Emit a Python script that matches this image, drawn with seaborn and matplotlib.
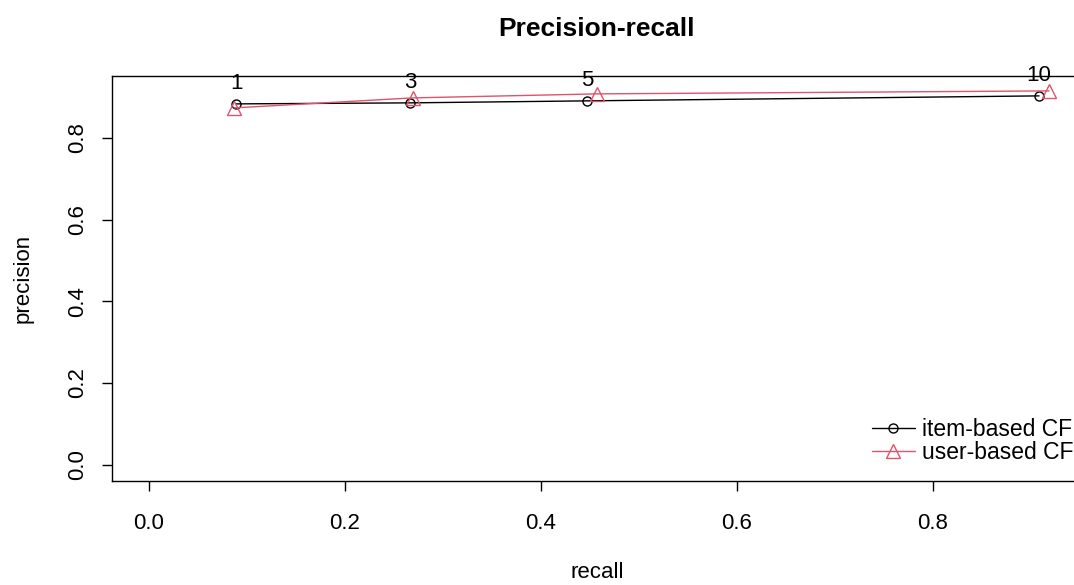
import matplotlib
matplotlib.use("Agg")
import matplotlib.pyplot as plt
from matplotlib.lines import Line2D
import seaborn as sns
import pandas as pd

# values
n_recs = ["1", "3", "5", "10"]
item_recall = [0.0888, 0.2663, 0.4469, 0.9082]
item_precision = [0.8837, 0.8862, 0.8911, 0.9033]
user_recall = [0.0867, 0.2694, 0.4571, 0.9184]
user_precision = [0.8739, 0.8984, 0.9082, 0.9155]

sns.set_style("white")
plt.rcParams["font.family"] = ["Liberation Sans", "DejaVu Sans"]
plt.rcParams["text.color"] = "black"
plt.rcParams["axes.labelcolor"] = "black"
plt.rcParams["xtick.color"] = "black"
plt.rcParams["ytick.color"] = "black"

df = pd.concat([
    pd.DataFrame({"recall": item_recall, "precision": item_precision, "method": "item-based CF"}),
    pd.DataFrame({"recall": user_recall, "precision": user_precision, "method": "user-based CF"}),
])

fig = plt.figure(figsize=(10.74, 5.85), dpi=100)
ax = fig.add_axes([112 / 1074, (585 - 481) / 585, (1082 - 112) / 1074, (481 - 76) / 585])

red = "#DF536B"
sns.lineplot(data=df, x="recall", y="precision", hue="method", style="method",
             palette={"item-based CF": "black", "user-based CF": red},
             markers={"item-based CF": "o", "user-based CF": "^"},
             dashes=False, sort=False, linewidth=1, legend=False, ax=ax)
for line, ms in zip(ax.lines[:2], [6.5, 10]):
    line.set_markersize(ms)
    line.set_markerfacecolor("none")
    line.set_markeredgewidth(1)
    line.set_markeredgecolor(line.get_color())

for lab, x, y in zip(n_recs, item_recall, item_precision):
    ax.annotate(lab, (x, y), xytext=(0, 7), textcoords="offset points",
                ha="center", va="bottom", fontsize=16)

ax.set_xlim(-0.0378, 0.952)
ax.set_ylim(-0.04, 0.952)
ticks = [0.0, 0.2, 0.4, 0.6, 0.8]
ax.set_xticks(ticks)
ax.set_yticks(ticks)
ax.set_xticklabels([f"{t:.1f}" for t in ticks], fontsize=16)
ax.set_yticklabels([f"{t:.1f}" for t in ticks], fontsize=16, rotation=90, va="center")
ax.tick_params(axis="both", direction="out", length=7, width=1, bottom=True, left=True)
ax.tick_params(axis="x", pad=16)
ax.tick_params(axis="y", pad=10)
for s in ax.spines.values():
    s.set_color("black")
    s.set_linewidth(1)

ax.set_xlabel("recall", fontsize=16, labelpad=20)
ax.set_ylabel("precision", fontsize=16, labelpad=24)
ax.set_title("Precision-recall", fontsize=19, fontweight="bold", pad=29)

handles = [
    Line2D([], [], color="black", marker="o", markersize=6.5, markerfacecolor="none", linewidth=1),
    Line2D([], [], color=red, marker="^", markersize=10, markerfacecolor="none", linewidth=1),
]
fig.legend(handles, ["item-based CF", "user-based CF"], loc="lower right",
           bbox_to_anchor=(1073 / 1074, (585 - 464) / 585), frameon=False,
           fontsize=16.5, handlelength=1.85, handletextpad=0.3, labelspacing=0.0,
           borderaxespad=0, borderpad=0)

fig.savefig("out.png", dpi=100)
